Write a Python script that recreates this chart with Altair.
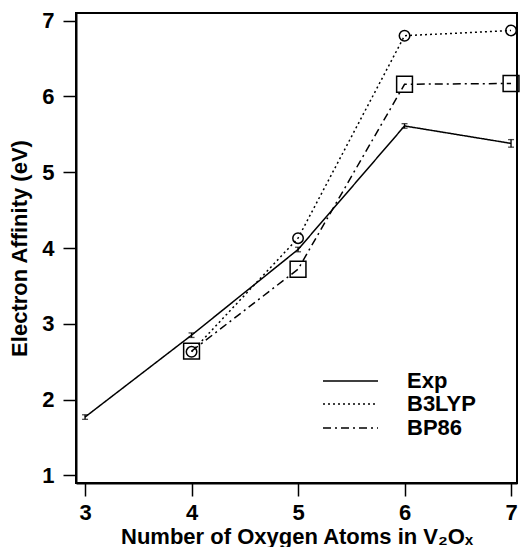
import altair as alt
import pandas as pd

# ---- data ----
n_oxygen = [3, 4, 5, 6, 7]
exp_ea = [1.77, 2.85, 3.98, 5.61, 5.38]
exp_err = [0.03, 0.03, 0.03, 0.03, 0.05]

calc_x = [4, 5, 6, 7]
b3lyp_ea = [2.63, 4.13, 6.80, 6.87]
bp86_ea = [2.64, 3.72, 6.16, 6.17]

series_order = ["Exp", "B3LYP", "BP86"]
dash_styles = [[1, 0], [2, 3], [8, 4, 2, 4]]

rows = []
for x, y in zip(n_oxygen, exp_ea):
    rows.append({"x": x, "y": y, "series": "Exp"})
for x, y in zip(calc_x, b3lyp_ea):
    rows.append({"x": x, "y": y, "series": "B3LYP"})
for x, y in zip(calc_x, bp86_ea):
    rows.append({"x": x, "y": y, "series": "BP86"})
df = pd.DataFrame(rows)

err_df = pd.DataFrame({
    "x": n_oxygen,
    "lo": [v - e for v, e in zip(exp_ea, exp_err)],
    "hi": [v + e for v, e in zip(exp_ea, exp_err)],
})

marker_df = df[df["series"] != "Exp"]

FONT = "Liberation Sans"

xscale = alt.Scale(domain=[2.915, 7.056], nice=False, zero=False)
yscale = alt.Scale(domain=[0.9, 7.1], nice=False, zero=False)

xenc = alt.X("x:Q", scale=xscale,
             axis=alt.Axis(title="Number of Oxygen Atoms in V₂Oₓ",
                           values=[3, 4, 5, 6, 7], format="d"))
yenc = alt.Y("y:Q", scale=yscale,
             axis=alt.Axis(title="Electron Affinity (eV)",
                           values=[1, 2, 3, 4, 5, 6, 7], format="d"))

lines = alt.Chart(df).mark_line(color="black", strokeWidth=1.5).encode(
    x=xenc,
    y=yenc,
    strokeDash=alt.StrokeDash(
        "series:N",
        scale=alt.Scale(domain=series_order, range=dash_styles),
        legend=None,
    ),
    detail="series:N",
)

markers = alt.Chart(marker_df).mark_point(
    filled=False, color="black", strokeWidth=1.5, opacity=1
).encode(
    x="x:Q",
    y="y:Q",
    shape=alt.Shape("series:N",
                    scale=alt.Scale(domain=["B3LYP", "BP86"],
                                    range=["circle", "square"]),
                    legend=None),
    size=alt.Size("series:N",
                  scale=alt.Scale(domain=["B3LYP", "BP86"], range=[110, 250]),
                  legend=None),
)

err_rule = alt.Chart(err_df).mark_rule(color="black", strokeWidth=1.3).encode(
    x="x:Q", y="lo:Q", y2="hi:Q"
)
err_cap_lo = alt.Chart(err_df).mark_tick(
    color="black", orient="horizontal", size=6, thickness=1.3
).encode(x="x:Q", y="lo:Q")
err_cap_hi = alt.Chart(err_df).mark_tick(
    color="black", orient="horizontal", size=6, thickness=1.3
).encode(x="x:Q", y="hi:Q")

# ---- manual legend (layout in pixels inside the plot area) ----
legend_rows_y = [368, 391, 415]
legend_layers = []
for name, dash, py in zip(series_order, dash_styles, legend_rows_y):
    legend_layers.append(
        alt.Chart(pd.DataFrame({"series": [name]})).mark_rule(
            color="black", strokeWidth=1.6, strokeDash=dash
        ).encode(x=alt.value(247), x2=alt.value(302), y=alt.value(py))
    )
    legend_layers.append(
        alt.Chart(pd.DataFrame({"series": [name]})).mark_text(
            align="left", baseline="middle", font=FONT, fontWeight="bold",
            fontSize=22, color="black"
        ).encode(x=alt.value(331), y=alt.value(py), text="series:N")
    )

chart = alt.layer(lines, err_rule, err_cap_lo, err_cap_hi, markers,
                  *legend_layers).properties(
    width=441,
    height=470,
    autosize=alt.AutoSizeParams(type="none"),
    padding={"left": 76, "top": 13, "right": 3, "bottom": 64},
    background="white",
).configure_view(
    stroke="black", strokeWidth=2
).configure_axis(
    grid=False,
    domainColor="black",
    domainWidth=2,
    tickColor="black",
    tickWidth=1.5,
    tickSize=13,
    labelFont=FONT,
    labelFontWeight="bold",
    labelFontSize=22,
    labelColor="black",
    titleFont=FONT,
    titleFontWeight="bold",
    titleFontSize=22,
    titleColor="black",
).configure_axisX(
    labelPadding=6,
    titlePadding=3,
).configure_axisY(
    labelPadding=9,
    titlePadding=10,
)

chart.save("out.html", embed_options={"renderer": "svg", "actions": False})
